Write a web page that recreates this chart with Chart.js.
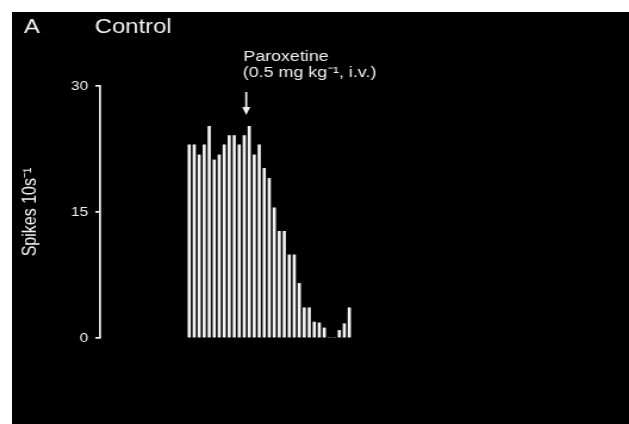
<!DOCTYPE html>
<html>
<head>
<meta charset="utf-8">
<script src="https://cdn.jsdelivr.net/npm/chart.js@4/dist/chart.umd.min.js"></script>
<style>
    html, body { margin: 0; padding: 0; background: #fff; }
    body { width: 629px; height: 424px; position: relative; overflow: hidden; }
    #rateChart { position: absolute; left: 12px; top: 12px; }
</style>
</head>
<body>
<!-- the scanned figure is a little wider than tall, so the canvas is stretched sideways -->
<canvas id="rateChart" width="518" height="412" style="width:617px;height:412px"></canvas>
<script>
/* ==========================================================================
   DATA (spike counts per 10 s bin)
   ========================================================================== */
const binNumbers = [];
const spikeCounts = [
    23.0, 23.0, 21.8, 23.0, 25.2, 21.2, 21.8, 23.0, 24.1, 24.1, 23.0,
    24.1, 25.2, 21.8, 23.0, 20.2, 19.0, 15.5, 12.7, 12.7, 9.9, 9.9,
    6.5, 3.6, 3.6, 1.9, 1.8, 1.2, 0, 0, 0.9, 1.7, 3.6
];
spikeCounts.forEach((v, i) => binNumbers.push(i + 1));

const yTicks = [0, 15, 30];
const panelLetter = "A";
const panelTitle = "Control";
const drugLines = ["Paroxetine", "(0.5 mg kg\u207B\u00B9, i.v.)"];
const injectionBin = 12.4;
const axisTitle = "Spikes 10s\u207B\u00B9";

const FG = "#f2f2f2";
const FONT = "'Liberation Sans', Arial, Helvetica, sans-serif";

/* ==========================================================================
   PLUGINS
   ========================================================================== */
const blackBackground = {
    id: "blackBackground",
    beforeDraw(chart) {
        const ctx = chart.ctx;
        ctx.save();
        ctx.fillStyle = "#000";
        ctx.fillRect(0, 0, chart.width, chart.height);
        ctx.restore();
    }
};

const figureLabels = {
    id: "figureLabels",
    afterDraw(chart) {
        const ctx = chart.ctx;
        const x = chart.scales.x;
        const top = chart.chartArea.top;
        const arrowX = x.getPixelForValue(injectionBin);

        ctx.save();
        ctx.fillStyle = FG;
        ctx.strokeStyle = FG;
        ctx.textBaseline = "alphabetic";
        ctx.textAlign = "left";

        // panel heading
        ctx.font = "20px " + FONT;
        ctx.fillText(panelLetter, 10, 21);
        ctx.fillText(panelTitle, 69.5, 21);

        // drug label
        ctx.font = "15px " + FONT;
        ctx.fillText(drugLines[0], arrowX - 2.5, top - 25.5);
        ctx.fillText(drugLines[1], arrowX - 3, top - 9.5);

        // injection arrow
        ctx.lineWidth = 1.7;
        ctx.beginPath();
        ctx.moveTo(arrowX, top + 6);
        ctx.lineTo(arrowX, top + 24);
        ctx.stroke();
        ctx.beginPath();
        ctx.moveTo(arrowX - 3.4, top + 21);
        ctx.lineTo(arrowX + 3.4, top + 21);
        ctx.lineTo(arrowX, top + 29);
        ctx.closePath();
        ctx.fill();
        ctx.restore();
    }
};

/* ==========================================================================
   CHART
   ========================================================================== */
function buildChart() {
    const ctx = document.getElementById("rateChart").getContext("2d");

    return new Chart(ctx, {
        type: "bar",
        data: {
            datasets: [{
                data: binNumbers.map((b, i) => ({ x: b, y: spikeCounts[i] })),
                backgroundColor: FG,
                borderWidth: 0,
                barThickness: 2.0
            }]
        },
        options: {
            responsive: false,
            animation: false,
            devicePixelRatio: 1,
            layout: { padding: { left: 0, top: 74, right: 24, bottom: 86 } },
            plugins: {
                legend: { display: false },
                tooltip: { enabled: false }
            },
            scales: {
                x: {
                    type: "linear",
                    display: false,
                    offset: false,
                    min: -16.8,
                    max: 83.2
                },
                y: {
                    min: 0,
                    max: 30,
                    afterFit: (scale) => { scale.width = 74; },
                    afterBuildTicks: (scale) => {
                        scale.ticks = yTicks.map(v => ({ value: v }));
                    },
                    border: { display: true, color: FG, width: 1.7 },
                    grid: {
                        drawOnChartArea: false,
                        drawTicks: true,
                        tickLength: 4,
                        color: FG,
                        lineWidth: 1.7
                    },
                    ticks: {
                        color: FG,
                        padding: 6,
                        font: { family: FONT, size: 13 }
                    },
                    title: {
                        display: true,
                        text: axisTitle,
                        color: FG,
                        padding: { top: 6, bottom: 0 },
                        font: { family: FONT, size: 16 }
                    }
                }
            }
        },
        plugins: [blackBackground, figureLabels]
    });
}

document.addEventListener("DOMContentLoaded", buildChart);
</script>
</body>
</html>
